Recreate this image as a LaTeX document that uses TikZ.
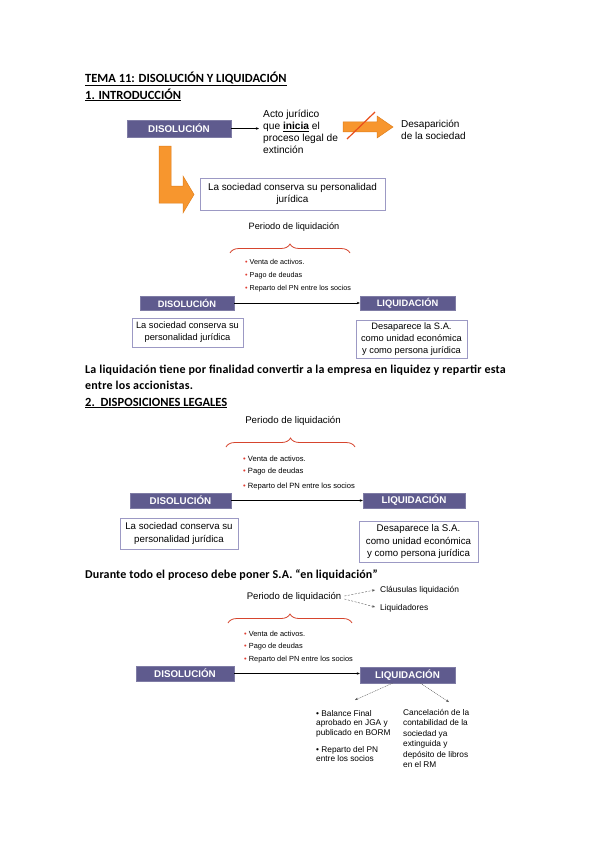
\documentclass[tikz,border=0pt]{standalone}
\usepackage{fontspec}
\setmainfont{Liberation Sans}
\newfontfamily\calib{Carlito}
\newfontfamily\calibsp{Carlito}[LetterSpace=1.3]
\newfontfamily\calibpar{Carlito}[LetterSpace=1.8]
\usetikzlibrary{arrows.meta,decorations.pathreplacing,calc}
\definecolor{boxpurple}{HTML}{5F5B8E}
\definecolor{boxedge}{HTML}{9C99C4}
\definecolor{orangefill}{HTML}{F7962E}
\definecolor{orangeedge}{HTML}{E07F1C}
\definecolor{redline}{HTML}{E94E1B}
\definecolor{bracered}{HTML}{D6452E}
\definecolor{bulletred}{HTML}{E03C31}
\begin{document}
\begin{tikzpicture}[x=1pt,y=-1pt,
  darkbox/.style={fill=boxpurple,draw=boxpurple!80!white,line width=0.4pt,text=white,inner sep=0pt,
    font=\fontsize{9.8}{11}\selectfont\bfseries},
  textbox/.style={draw=boxedge,line width=0.9pt,fill=white,inner sep=0pt,align=center},
  heading/.style={anchor=west,inner sep=0pt,font=\calib\fontsize{12.5}{14}\selectfont\bfseries},
  plain/.style={anchor=west,inner sep=0pt,align=left},
  bul/.style={anchor=west,inner sep=0pt,font=\fontsize{7.2}{8}\selectfont},
  thinarrow/.style={-{Stealth[length=3pt,width=2.5pt]},line width=0.6pt},
  bracestyle/.style={draw=bracered,line width=0.8pt,decorate,decoration={brace,amplitude=9pt}},
  orangearrow/.style={fill=orangefill,draw=orangeedge,line width=0.5pt}]
\useasboundingbox (0,0) rectangle (599,848);
\fill[white] (0,0) rectangle (599,848);
\newcommand{\rb}{\textcolor{bulletred}{\textbullet}\ }

% headings
\node[heading] (t1) at (85,79) {\underline{TEMA 11: DISOLUCIÓN Y LIQUIDACIÓN}};
\node[heading] (t2) at (85,95) {\underline{1. INTRODUCCIÓN}};

% section 1
\node[darkbox,minimum width=104pt,minimum height=17pt] (dis1) at (179,128.5) {DISOLUCIÓN};
\node[plain,font=\fontsize{10.2}{12}\selectfont] (acto) at (263,132)
  {Acto jurídico\\que \textbf{\underline{inicia}} el\\proceso legal de\\extinción};
\draw[thinarrow] (dis1.east) -- ($(dis1.east -| acto.west)+(-4,0)$);
\draw[orangearrow] (343,122) -- (377,122) -- (377,116) -- (393,127) -- (377,138) -- (377,132) -- (343,132) -- cycle;
\draw[redline,line width=1.2pt] (347,139) -- (375,112);
\node[plain,font=\fontsize{10}{12}\selectfont] (desap) at (401,130) {Desaparición\\de la sociedad};
\draw[orangearrow] (159,146) -- (171,146) -- (171,186) -- (183,186) -- (183,176) -- (194,194.5) -- (183,213) -- (183,203) -- (159,203) -- cycle;
\node[textbox,minimum width=185pt,minimum height=32pt,font=\fontsize{9.9}{12.5}\selectfont] (soc1) at (292.5,194)
  {La sociedad conserva su personalidad\\jurídica};

% periodo 1
\node[inner sep=0pt,font=\fontsize{9.2}{10}\selectfont] (per1) at (294,227) {Periodo de liquidación};
\draw[bracestyle] (230,253) -- (350,253);
\node[bul] (b11) at (245,262) {\rb Venta de activos.};
\node[bul] (b12) at (245,276) {\rb Pago de deudas};
\node[bul] (b13) at (245,289) {\rb Reparto del PN entre los socios};
\node[darkbox,minimum width=94pt,minimum height=14pt,font=\fontsize{9.3}{10}\selectfont\bfseries] (dis2) at (187,303) {DISOLUCIÓN};
\node[darkbox,minimum width=95pt,minimum height=14pt,font=\fontsize{9.3}{10}\selectfont\bfseries] (liq2) at (407.5,303) {LIQUIDACIÓN};
\draw[thinarrow] (dis2.east) -- (liq2.west);
\node[textbox,minimum width=111pt,minimum height=29pt,font=\fontsize{9.3}{12}\selectfont] (soc2) at (187.5,332.5)
  {La sociedad conserva su\\personalidad jurídica};
\node[textbox,minimum width=111pt,minimum height=38pt,font=\fontsize{9.3}{11.8}\selectfont] (des2) at (411.5,339)
  {Desaparece la S.A.\\como unidad económica\\y como persona jurídica};

% paragraph
\node[heading,font=\calibpar\fontsize{12}{16}\selectfont\bfseries,anchor=north west,align=left] (par) at (85,365)
  {La liquidación tiene por finalidad convertir a la empresa en liquidez y repartir esta\\entre los accionistas.};
\node[heading] (t3) at (85,403) {\underline{2.\ \ DISPOSICIONES LEGALES}};

% section 2
\node[inner sep=0pt,font=\fontsize{9.7}{10}\selectfont] (per2) at (293,421) {Periodo de liquidación};
\draw[bracestyle] (226,447) -- (355,447);
\node[bul,font=\fontsize{7.6}{8}\selectfont] (b21) at (243,459) {\rb Venta de activos.};
\node[bul,font=\fontsize{7.6}{8}\selectfont] (b22) at (243,472) {\rb Pago de deudas};
\node[bul,font=\fontsize{7.6}{8}\selectfont] (b23) at (243,487) {\rb Reparto del PN entre los socios};
\node[darkbox,minimum width=101pt,minimum height=15pt] (dis3) at (180.5,500.5) {DISOLUCIÓN};
\node[darkbox,minimum width=102pt,minimum height=15pt] (liq3) at (414,500.5) {LIQUIDACIÓN};
\draw[thinarrow] (dis3.east) -- (liq3.west);
\node[textbox,minimum width=118pt,minimum height=31pt,font=\fontsize{9.7}{12.5}\selectfont] (soc3) at (179,533.5)
  {La sociedad conserva su\\personalidad jurídica};
\node[textbox,minimum width=119pt,minimum height=41pt,font=\fontsize{9.7}{12.5}\selectfont] (des3) at (418.5,541.5)
  {Desaparece la S.A.\\como unidad económica\\y como persona jurídica};

\node[heading,font=\calibsp\fontsize{12}{14}\selectfont\bfseries] (t4) at (85,575) {Durante todo el proceso debe poner S.A. “en liquidación”};

% section 3
\node[inner sep=0pt,font=\fontsize{9.6}{10}\selectfont] (per3) at (294,597) {Periodo de liquidación};
\node[bul,font=\fontsize{8.4}{9}\selectfont] (cla) at (380,590) {Cláusulas liquidación};
\node[bul,font=\fontsize{8.4}{9}\selectfont] (liqd) at (380,608) {Liquidadores};
\draw[thinarrow,line width=0.4pt,gray!70!black,dash pattern=on 2pt off 1.5pt] ($(per3.east)+(3,-1)$) -- ($(cla.west)+(-5,0)$);
\draw[thinarrow,line width=0.4pt,gray!70!black,dash pattern=on 2pt off 1.5pt] ($(per3.east)+(3,2)$) -- ($(liqd.west)+(-5,-1)$);
\draw[bracestyle] (228,623) -- (352,623);
\node[bul,font=\fontsize{7.4}{8}\selectfont] (b31) at (244,634) {\rb Venta de activos.};
\node[bul,font=\fontsize{7.4}{8}\selectfont] (b32) at (244,647) {\rb Pago de deudas};
\node[bul,font=\fontsize{7.4}{8}\selectfont] (b33) at (244,660) {\rb Reparto del PN entre los socios};
\node[darkbox,minimum width=98pt,minimum height=15pt] (dis4) at (185,673.5) {DISOLUCIÓN};
\node[darkbox,minimum width=95pt,minimum height=16pt] (liq4) at (407.5,675) {LIQUIDACIÓN};
\draw[thinarrow] (dis4.east) -- (dis4.east -| liq4.west);
\coordinate (lq1) at (355,700);
\coordinate (lq2) at (449,702);
\draw[thinarrow,line width=0.4pt,gray!70!black,dash pattern=on 1pt off 0.8pt] ($(liq4.south)+(-15,0)$) -- (lq1);
\draw[thinarrow,line width=0.4pt,gray!70!black,dash pattern=on 1pt off 0.8pt] ($(liq4.south)+(13,0)$) -- (lq2);
\node[plain,font=\fontsize{8.3}{9.5}\selectfont] (bal) at (316,723.5) {\textbullet\ Balance Final\\aprobado en JGA y\\publicado en BORM};
\node[plain,font=\fontsize{8.3}{9.5}\selectfont] (rep) at (316,754) {\textbullet\ Reparto del PN\\entre los socios};
\node[plain,font=\fontsize{8.3}{10.5}\selectfont] (canc) at (403,738.5)
  {Cancelación de la\\contabilidad de la\\sociedad ya\\extinguida y\\depósito de libros\\en el RM};
\end{tikzpicture}
\end{document}
